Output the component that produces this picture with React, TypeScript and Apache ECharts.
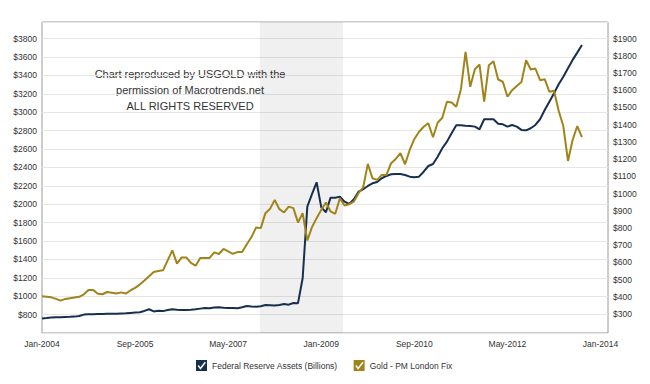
import { useEffect, useRef } from "react";
import * as echarts from "echarts";

// x axis: months counted from Jan-2004 (index 0), tick every 20 months
const xTickLabels = ["Jan-2004", "Sep-2005", "May-2007", "Jan-2009", "Sep-2010", "May-2012", "Jan-2014"];
const rightTicks = [300, 400, 500, 600, 700, 800, 900, 1000, 1100, 1200, 1300, 1400, 1500, 1600, 1700, 1800, 1900];

// Federal Reserve Assets (Billions), monthly from Jan-2004
const fedAssets = [
  758, 762, 768, 770, 772, 775, 776, 778, 785, 800, 803, 805,
  806, 806, 808, 810, 810, 812, 814, 818, 822, 826, 840, 858,
  834, 842, 838, 850, 858, 852, 851, 850, 852, 857, 865, 872,
  870, 876, 879, 875, 872, 872, 868, 880, 893, 888, 886, 890,
  904, 901, 898, 905, 915, 908, 926, 924, 1195, 1973, 2110, 2238,
  1966, 1912, 2071, 2071, 2082, 2027, 2002, 2053, 2136, 2162, 2198, 2227,
  2241, 2282, 2307, 2325, 2328, 2328, 2317, 2299, 2292, 2299, 2353, 2415,
  2437, 2516, 2608, 2680, 2771, 2858, 2858, 2853, 2850, 2843, 2814, 2923,
  2923, 2923, 2875, 2868, 2843, 2861, 2843, 2807, 2803, 2825, 2861, 2923,
  3024, 3114, 3205, 3303, 3386, 3477, 3568, 3647, 3731,
];

// Gold - PM London Fix, monthly from Jan-2004
const goldFix = [
  403, 400, 397, 388, 378, 388, 392, 396, 400, 415, 440, 440,
  418, 415, 428, 424, 419, 426, 419, 437, 452, 471, 495, 520,
  544, 550, 554, 612, 670, 593, 629, 629, 597, 581, 626, 626,
  626, 658, 649, 678, 664, 650, 660, 660, 705, 747, 803, 799,
  886, 911, 963, 909, 890, 924, 915, 832, 886, 727, 805, 857,
  905, 948, 896, 882, 973, 930, 938, 953, 1002, 1035, 1172, 1089,
  1079, 1108, 1108, 1176, 1201, 1234, 1170, 1253, 1317, 1359, 1388, 1408,
  1327, 1411, 1440, 1533, 1529, 1504, 1606, 1822, 1620, 1722, 1749, 1533,
  1745, 1768, 1662, 1649, 1562, 1600, 1624, 1647, 1774, 1720, 1726, 1658,
  1664, 1591, 1597, 1481, 1392, 1189, 1311, 1392, 1327,
];

// recession shading (month index)
const recessionStart = 46.8;
const recessionEnd = 64.7;

const FONT = '"Liberation Sans", Arial, Helvetica, sans-serif';
const NAVY = "#172f4f";
const GOLD = "#a08419";
const CHECK_ICON =
  "path://M0,0 L100,0 L100,100 L0,100 Z M15,55 L40,88 L90,25 L80,15 L40,65 L25,45 Z";

export default function App() {
  const ref = useRef<HTMLDivElement>(null);

  useEffect(() => {
    document.body.style.margin = "0";
    const chart = echarts.init(ref.current!, null, { renderer: "svg" });
    chart.setOption({
      animation: false,
      backgroundColor: "#ffffff",
      textStyle: { fontFamily: FONT },
      grid: {
        left: 42,
        right: 42,
        top: 22,
        bottom: 51,
        show: true,
        borderColor: "#9a9a9a",
        borderWidth: 1,
        backgroundColor: "transparent",
      },
      legend: {
        left: 196,
        top: 360,
        padding: 0,
        itemWidth: 11,
        itemHeight: 11,
        itemGap: 16,
        icon: CHECK_ICON,
        textStyle: { fontSize: 8.5, color: "#333", fontFamily: FONT },
        data: ["Federal Reserve Assets (Billions)", "Gold - PM London Fix"],
      },
      xAxis: {
        type: "value",
        min: 0,
        max: 121.6,
        interval: 20,
        axisLine: { show: false },
        axisTick: { show: false },
        splitLine: { show: false },
        axisLabel: {
          fontSize: 8.5,
          color: "#333",
          margin: 6,
          showMaxLabel: false,
          formatter: (v: number) => (v % 20 === 0 ? xTickLabels[v / 20] ?? "" : ""),
        },
      },
      yAxis: [
        {
          type: "value",
          position: "left",
          min: 600,
          max: 3980,
          interval: 200,
          axisLine: { show: false },
          axisTick: { show: false },
          splitLine: { show: true, lineStyle: { color: "#e6e6e6", width: 1 } },
          axisLabel: {
            fontSize: 8.5,
            color: "#333",
            margin: 5,
            showMinLabel: false,
            showMaxLabel: false,
            formatter: (v: number) => "$" + v,
          },
        },
        {
          type: "value",
          position: "right",
          min: 190,
          max: 1996,
          axisLine: { show: false },
          axisTick: { show: false },
          splitLine: { show: false },
          axisLabel: {
            fontSize: 8.5,
            color: "#333",
            margin: 5,
            customValues: rightTicks,
            formatter: (v: number) => "$" + v,
          },
        },
      ],
      series: [
        {
          name: "Federal Reserve Assets (Billions)",
          type: "line",
          yAxisIndex: 0,
          symbol: "none",
          data: fedAssets.map((v, i) => [i, v]),
          lineStyle: { color: NAVY, width: 2 },
          itemStyle: { color: NAVY },
          markArea: {
            silent: true,
            itemStyle: { color: "rgba(0,0,0,0.06)" },
            data: [[{ xAxis: recessionStart }, { xAxis: recessionEnd }]],
          },
        },
        {
          name: "Gold - PM London Fix",
          type: "line",
          yAxisIndex: 1,
          symbol: "none",
          data: goldFix.map((v, i) => [i, v]),
          lineStyle: { color: GOLD, width: 2 },
          itemStyle: { color: GOLD },
        },
      ],
      graphic: [
        {
          type: "text",
          x: 190,
          y: 66,
          style: {
            text: "Chart reproduced by USGOLD with the\npermission of Macrotrends.net\nALL RIGHTS RESERVED",
            align: "center",
            verticalAlign: "top",
            fontSize: 11,
            fontFamily: FONT,
            lineHeight: 16,
            fill: "#333",
          },
        },
      ],
    });
    return () => chart.dispose();
  }, []);

  return <div ref={ref} style={{ width: 650, height: 384 }} />;
}
